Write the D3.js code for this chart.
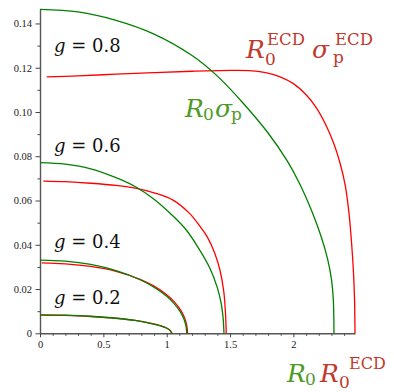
<!DOCTYPE html>
<html>
<head>
<meta charset="utf-8">
<script src="https://cdn.jsdelivr.net/npm/d3@7"></script>
<style>
  html, body { margin: 0; padding: 0; background: #fff; }
  svg { display: block; }
</style>
</head>
<body>
<div id="chart"></div>
<script>
// curve data: [R0, sigma_p] pairs
const green02 = [[0,0.0083],[0.2,0.0082],[0.4,0.0077],[0.6,0.0068],[0.75,0.0058],[0.87,0.0045],[0.95,0.0034],[1.0,0.0023],[1.025,0.0013],[1.039,0]];
const red02 = [[0.005,0.0082],[0.2,0.0081],[0.4,0.0076],[0.6,0.0068],[0.75,0.0058],[0.87,0.0046],[0.95,0.0035],[1.0,0.0024],[1.028,0.0013],[1.042,0]];
const green04 = [[0,0.0331],[0.2,0.0326],[0.4,0.0311],[0.6,0.0283],[0.79,0.0242],[0.9,0.0208],[1.0,0.0167],[1.06,0.0133],[1.105,0.0099],[1.135,0.0066],[1.152,0.0033],[1.158,0]];
const red04 = [[0.013,0.0318],[0.2,0.0314],[0.4,0.0302],[0.6,0.0280],[0.79,0.0244],[0.9,0.0213],[1.0,0.0174],[1.06,0.0142],[1.11,0.0105],[1.14,0.0072],[1.158,0.0036],[1.165,0]];
const green06 = [[0,0.0771],[0.2,0.0764],[0.4,0.0743],[0.6,0.0703],[0.76,0.0660],[0.9,0.0606],[1.05,0.0530],[1.15,0.0470],[1.24,0.0395],[1.34,0.0295],[1.40,0.0205],[1.43,0.0135],[1.445,0.0070],[1.452,0]];
const red06 = [[0.026,0.0688],[0.2,0.0685],[0.4,0.0678],[0.6,0.0668],[0.76,0.0655],[0.9,0.0635],[1.05,0.0602],[1.18,0.0542],[1.26,0.0485],[1.32,0.0436],[1.38,0.0361],[1.42,0.0286],[1.45,0.0190],[1.463,0.0100],[1.47,0]];
const green08 = [[0,0.1464],[0.3,0.1452],[0.6,0.1414],[0.9,0.1352],[1.2,0.1255],[1.4,0.1162],[1.6,0.1042],[1.8,0.0905],[1.95,0.0780],[2.05,0.0675],[2.15,0.0545],[2.22,0.0435],[2.27,0.0335],[2.30,0.0245],[2.315,0.0150],[2.32,0]];
const red08 = [[0.053,0.1159],[0.3,0.1163],[0.6,0.1171],[0.9,0.1178],[1.2,0.1184],[1.5,0.1188],[1.65,0.1187],[1.78,0.1178],[1.89,0.1160],[2.0,0.1128],[2.1,0.1078],[2.18,0.1020],[2.26,0.0937],[2.32,0.0855],[2.37,0.0765],[2.41,0.0665],[2.44,0.0535],[2.46,0.0400],[2.474,0.0275],[2.482,0.0160],[2.486,0]];

const gValues = ['0.2', '0.4', '0.6', '0.8'];
const gLabelY = [0.0132, 0.0384, 0.0821, 0.1273];

const xTicks = [0, 0.5, 1, 1.5, 2];
const xTickLabels = ['0', '0.5', '1', '1.5', '2'];
const yTicks = [0, 0.02, 0.04, 0.06, 0.08, 0.10, 0.12, 0.14];
const yTickLabels = ['0', '0.02', '0.04', '0.06', '0.08', '0.10', '0.12', '0.14'];

const W = 394, H = 392;
const greenLine = '#008000', redLine = '#ff0000';
const greenText = '#4e9a26', redText = '#c0392b';
const mathFont = 'DejaVu Serif';

const svg = d3.select('#chart').append('svg')
  .attr('width', W).attr('height', H);

const xScale = d3.scaleLinear()
  .domain([0, d3.max(red08, d => d[0])])
  .range([40, 355]);
const yScale = d3.scaleLinear()
  .domain([0, d3.max(green08, d => d[1])])
  .range([333.3, 9.3]);

// axes: minor ticks first, then majors with labels
const xMinor = d3.range(1, 25).map(i => i / 10).filter(v => !xTicks.some(t => Math.abs(t - v) < 1e-9));
const yMinor = d3.range(0, 7).map(i => 0.01 + i * 0.02);

const styleAxis = (g) => {
  g.attr('font-family', null).attr('font-size', null);
  g.select('.domain').attr('stroke', '#555').attr('stroke-width', 1.4);
  g.selectAll('.tick line').attr('stroke', '#444').attr('stroke-width', 1);
  g.selectAll('.tick text')
    .attr('fill', '#222')
    .style('font-family', '"Liberation Serif", serif')
    .style('font-size', '10.5px');
};

svg.append('g')
  .attr('transform', `translate(0, ${yScale(0)})`)
  .call(d3.axisBottom(xScale).tickValues(xMinor).tickSize(2.5).tickSizeOuter(0).tickFormat(''))
  .call(g => g.select('.domain').remove())
  .call(styleAxis);
svg.append('g')
  .attr('transform', `translate(${xScale(0)}, 0)`)
  .call(d3.axisLeft(yScale).tickValues(yMinor).tickSize(2.5).tickSizeOuter(0).tickFormat(''))
  .call(g => g.select('.domain').remove())
  .call(styleAxis);

svg.append('g')
  .attr('transform', `translate(0, ${yScale(0)})`)
  .call(d3.axisBottom(xScale).tickValues(xTicks).tickSize(4).tickPadding(3.5).tickSizeOuter(0)
    .tickFormat((d, i) => xTickLabels[i]))
  .call(styleAxis);
svg.append('g')
  .attr('transform', `translate(${xScale(0)}, 0)`)
  .call(d3.axisLeft(yScale).tickValues(yTicks).tickSize(4.5).tickPadding(3.5).tickSizeOuter(0)
    .tickFormat((d, i) => yTickLabels[i]))
  .call(styleAxis);

// curves
const line = d3.line()
  .x(d => xScale(d[0]))
  .y(d => yScale(d[1]))
  .curve(d3.curveCatmullRom.alpha(0.5));

const series = [
  { data: red08, color: redLine }, { data: green08, color: greenLine },
  { data: red06, color: redLine }, { data: green06, color: greenLine },
  { data: red04, color: redLine }, { data: green04, color: greenLine },
  { data: red02, color: redLine }, { data: green02, color: greenLine },
];
svg.append('g').selectAll('path')
  .data(series)
  .enter()
  .append('path')
  .attr('d', d => line(d.data))
  .attr('fill', 'none')
  .attr('stroke', d => d.color)
  .attr('stroke-width', 1.3);

// g = ... labels
gValues.forEach((v, i) => {
  const t = svg.append('text')
    .attr('x', xScale(0.11))
    .attr('y', yScale(gLabelY[i]))
    .attr('fill', '#111')
    .style('font-family', mathFont)
    .style('font-size', '18px');
  t.append('tspan').style('font-style', 'italic').text('g');
  t.append('tspan').text(` = ${v}`);
});

// math labels built from pieces: [text, x, y, size, italic]
const mathLabel = (pieces, color) => {
  const g = svg.append('g').attr('fill', color).style('font-family', mathFont);
  pieces.forEach(p => {
    g.append('text')
      .attr('x', p[1]).attr('y', p[2])
      .style('font-size', `${p[3]}px`)
      .style('font-style', p[4] ? 'italic' : 'normal')
      .text(p[0]);
  });
};

mathLabel([
  ['R', 246, 58, 25, true], ['0', 265, 65, 17], ['ECD', 267, 45, 16.5],
  ['σ', 312, 58, 25, true], ['p', 333, 63, 17], ['ECD', 335, 45, 16.5],
], redText);

mathLabel([
  ['R', 185, 116.7, 25, true], ['0', 203, 120, 17],
  ['σ', 215, 116.7, 25, true], ['p', 231, 120, 17],
], greenText);

mathLabel([['R', 287, 382, 25, true], ['0', 305, 385, 17]], greenText);
mathLabel([['R', 320, 382, 25, true], ['0', 339, 387.5, 17], ['ECD', 349, 369, 16]], redText);
</script>
</body>
</html>
